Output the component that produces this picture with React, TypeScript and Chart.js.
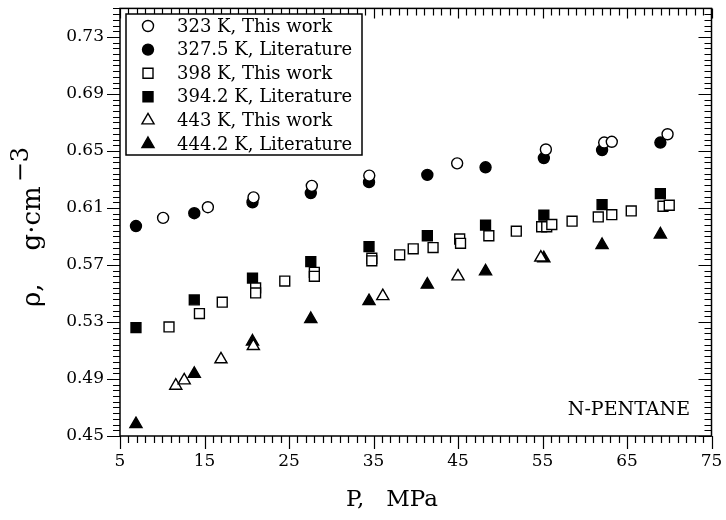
import React, { useEffect, useRef } from "react";
import { Chart, registerables } from "chart.js";

Chart.register(...registerables);

const FONT = "'DejaVu Serif', serif";

// Literature pressures (MPa)
const litP = [6.89, 13.79, 20.68, 27.58, 34.47, 41.37, 48.26, 55.16, 62.05, 68.95];

// 323 K, This work
const p323 = [10.1, 15.4, 20.8, 27.7, 34.5, 44.9, 55.4, 62.3, 63.2, 69.8];
const rho323 = [0.603, 0.6105, 0.6174, 0.6255, 0.6327, 0.6413, 0.651, 0.6559, 0.6564, 0.6617];

// 327.5 K, Literature
const rho3275 = [0.5973, 0.6063, 0.614, 0.6204, 0.6281, 0.6332, 0.6385, 0.645, 0.6506, 0.6559];

// 398 K, This work
const p398 = [10.8, 14.4, 17.1, 21.05, 21.05, 24.5, 28.0, 28.0, 34.8, 34.8, 38.1, 39.7, 42.05, 45.2, 45.3, 48.65, 51.9, 54.9, 55.5, 56.1, 58.5, 61.6, 63.2, 65.5, 69.26, 70.0];
const rho398 = [0.5265, 0.5359, 0.5439, 0.5539, 0.5504, 0.5587, 0.5648, 0.562, 0.5747, 0.5729, 0.5771, 0.5813, 0.5822, 0.5882, 0.5852, 0.5905, 0.5937, 0.5968, 0.5968, 0.5984, 0.6007, 0.6037, 0.6053, 0.6079, 0.6112, 0.6119];

// 394.2 K, Literature
const rho3942 = [0.526, 0.5455, 0.5608, 0.5724, 0.5829, 0.5905, 0.598, 0.6049, 0.6123, 0.62];

// 443 K, This work
const p443 = [11.6, 12.6, 16.95, 20.78, 36.1, 45.0, 54.8];
const rho443 = [0.4853, 0.489, 0.5038, 0.5131, 0.5481, 0.562, 0.5752];

// 444.2 K, Literature
const rho4442 = [0.4583, 0.4936, 0.5163, 0.5321, 0.5446, 0.5562, 0.5655, 0.5747, 0.584, 0.5914];

const xTicks = [5, 15, 25, 35, 45, 55, 65, 75];
const yTicks = [0.45, 0.49, 0.53, 0.57, 0.61, 0.65, 0.69, 0.73];

const legendLabels = [
  "323 K, This work",
  "327.5 K, Literature",
  "398 K, This work",
  "394.2 K, Literature",
  "443 K, This work",
  "444.2 K, Literature",
];
const legendStyles = ["circle", "circle", "rect", "rect", "triangle", "triangle"];
const legendFilled = [false, true, false, true, false, true];

function drawMarker(ctx: CanvasRenderingContext2D, style: string, filled: boolean, x: number, y: number) {
  ctx.save();
  ctx.beginPath();
  if (style === "circle") {
    ctx.arc(x, y, 5.5, 0, Math.PI * 2);
  } else if (style === "rect") {
    const s = 5;
    ctx.rect(x - s, y - s, 2 * s, 2 * s);
  } else {
    const r = 7;
    ctx.moveTo(x, y - r);
    ctx.lineTo(x + r * Math.sin(Math.PI / 3), y + r * 0.5);
    ctx.lineTo(x - r * Math.sin(Math.PI / 3), y + r * 0.5);
    ctx.closePath();
  }
  ctx.fillStyle = filled ? "#000" : "#fff";
  ctx.fill();
  ctx.lineWidth = 1.4;
  ctx.strokeStyle = "#000";
  ctx.stroke();
  ctx.restore();
}

export default function App() {
  const ref = useRef<HTMLCanvasElement>(null);

  useEffect(() => {
    if (!ref.current) return;
    const mk = (xs: number[], ys: number[]) => xs.map((x, i) => ({ x, y: ys[i] }));
    const ds = (label: string, data: any[], style: string, filled: boolean, r: number) => ({
      label,
      data,
      pointStyle: style,
      pointRadius: r,
      pointHoverRadius: r,
      pointBackgroundColor: filled ? "#000" : "#fff",
      pointBorderColor: "#000",
      pointBorderWidth: 1.4,
      showLine: false,
    });

    const framePlugin = {
      id: "frame",
      afterDraw(chart: any) {
        const ctx: CanvasRenderingContext2D = chart.ctx;
        const a = chart.chartArea;
        const xs = chart.scales.x;
        const ys = chart.scales.y;
        ctx.save();
        ctx.strokeStyle = "#000";
        ctx.lineWidth = 1.5;
        ctx.strokeRect(a.left, a.top, a.right - a.left, a.bottom - a.top);
        ctx.lineWidth = 1.2;
        ctx.beginPath();
        // x ticks: every 1 MPa, major every 10; drawn downward on both bottom and top
        for (let v = 5; v <= 75; v++) {
          const px = Math.round(xs.getPixelForValue(v)) + 0.5;
          const major = (v - 5) % 10 === 0;
          const len = major ? 13 : 7;
          ctx.moveTo(px, a.bottom);
          ctx.lineTo(px, a.bottom + len);
          ctx.moveTo(px, a.top);
          ctx.lineTo(px, a.top + (major ? 10 : 7));
        }
        // y ticks: every 0.004, major every 0.04; drawn leftward on both left and right
        for (let i = 0; i <= 75; i++) {
          const v = 0.45 + i * 0.004;
          const py = Math.round(ys.getPixelForValue(v)) + 0.5;
          const major = i % 10 === 0;
          const len = major ? 13 : 7;
          ctx.moveTo(a.left, py);
          ctx.lineTo(a.left - len, py);
          ctx.moveTo(a.right, py);
          ctx.lineTo(a.right - len, py);
        }
        ctx.stroke();

        // Legend box
        ctx.lineWidth = 1.5;
        ctx.fillStyle = "#fff";
        ctx.fillRect(126, 14, 236, 141);
        ctx.strokeRect(126, 14, 236, 141);
        ctx.font = `18px ${FONT}`;
        ctx.textBaseline = "middle";
        ctx.textAlign = "left";
        for (let i = 0; i < legendLabels.length; i++) {
          const y = 26 + i * 23.6;
          drawMarker(ctx, legendStyles[i], legendFilled[i], 148, y);
          ctx.fillStyle = "#000";
          ctx.fillText(legendLabels[i], 177, y + 1);
        }

        // Annotation
        ctx.font = `19px ${FONT}`;
        ctx.textAlign = "right";
        ctx.fillStyle = "#000";
        ctx.fillText("N-PENTANE", 690, 410);

        // X title
        ctx.font = `23px ${FONT}`;
        ctx.textAlign = "center";
        ctx.textBaseline = "alphabetic";
        ctx.fillText("P,   MPa", 392, 506);

        // Y title (rotated)
        ctx.translate(40, 307);
        ctx.rotate(-Math.PI / 2);
        ctx.font = `26px ${FONT}`;
        ctx.textAlign = "left";
        const main = "\u03c1,    g\u00b7cm";
        ctx.fillText(main, 0, 0);
        const w = ctx.measureText(main).width;
        ctx.font = `24px ${FONT}`;
        ctx.fillText("\u22123", w + 4, -12);
        ctx.restore();
      },
    };

    const chart = new Chart(ref.current, {
      type: "scatter",
      data: {
        datasets: [
          ds("323 K, This work", mk(p323, rho323), "circle", false, 5.5),
          ds("327.5 K, Literature", mk(litP, rho3275), "circle", true, 5.5),
          ds("398 K, This work", mk(p398, rho398), "rect", false, 7),
          ds("394.2 K, Literature", mk(litP, rho3942), "rect", true, 7),
          ds("443 K, This work", mk(p443, rho443), "triangle", false, 7),
          ds("444.2 K, Literature", mk(litP, rho4442), "triangle", true, 7),
        ],
      },
      options: {
        responsive: false,
        animation: false,
        events: [],
        layout: { padding: { left: 0, top: 5, right: 14.5, bottom: 0 } },
        plugins: { legend: { display: false }, tooltip: { enabled: false } },
        scales: {
          x: {
            type: "linear",
            min: 5,
            max: 75,
            grid: { display: false, drawTicks: false },
            border: { display: false },
            afterBuildTicks: (s: any) => {
              s.ticks = xTicks.map((v) => ({ value: v }));
            },
            afterFit: (s: any) => {
              s.height = 84;
              s.paddingLeft = 0;
              s.paddingRight = 0;
            },
            ticks: {
              color: "#000",
              font: { family: FONT, size: 17 },
              padding: 15,
              maxRotation: 0,
              callback: (v: any) => String(v),
            },
          },
          y: {
            type: "linear",
            min: 0.45,
            max: 0.75,
            grid: { display: false, drawTicks: false },
            border: { display: false },
            afterBuildTicks: (s: any) => {
              s.ticks = yTicks.map((v) => ({ value: v }));
            },
            afterFit: (s: any) => {
              s.width = 120;
              s.paddingTop = 0;
              s.paddingBottom = 0;
            },
            ticks: {
              color: "#000",
              font: { family: FONT, size: 17 },
              padding: 16,
              callback: (v: any) => Number(v).toFixed(2),
            },
          },
        },
      },
      plugins: [framePlugin],
    });
    return () => chart.destroy();
  }, []);

  return (
    <div style={{ position: "absolute", left: 0, top: 0, width: 726, height: 520, background: "#fff" }}>
      <canvas ref={ref} width={726} height={520} style={{ display: "block" }} />
    </div>
  );
}
